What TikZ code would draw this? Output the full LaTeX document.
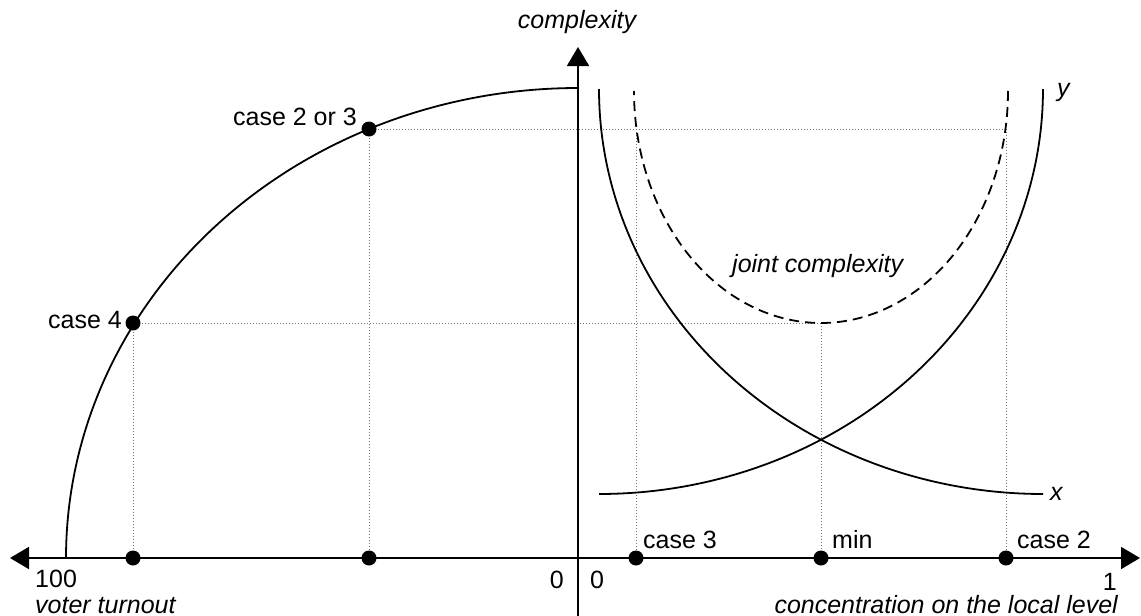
\documentclass[tikz,border=0pt]{standalone}
\usepackage{fontspec}
\setmainfont{Liberation Sans}
\usetikzlibrary{arrows.meta}
\begin{document}
\begin{tikzpicture}[x=1pt,y=-1pt,
  axis/.style={line width=1.9pt},
  curve/.style={line width=1.8pt},
  joint/.style={line width=1.8pt, dash pattern=on 10pt off 6pt},
  guide/.style={draw=black!55, line width=1pt, dash pattern=on 1.3pt off 1.7pt},
  pt/.style={circle, fill=black, inner sep=0pt, minimum size=15pt},
  lbl/.style={font=\fontsize{25}{29}\selectfont, inner sep=0pt},
  ilbl/.style={font=\fontsize{25}{29}\selectfont\itshape, inner sep=0pt},
  tipstyle/.style={-{Triangle[length=19pt,width=22pt]}}
]
\useasboundingbox (0,0) rectangle (1141,616);
% axes
\coordinate (L) at (10,558);
\coordinate (R) at (1140,558);
\coordinate (T) at (578,47);
\coordinate (B) at (578,616);
% guide points
\coordinate (p4) at (133,323);
\coordinate (p23) at (369,129);
\coordinate (j3) at (636,129);
\coordinate (j2) at (1006,129);
\coordinate (jm) at (821,323);
\coordinate (a4) at (133,558);
\coordinate (a23) at (369,558);
\coordinate (a3) at (636,558);
\coordinate (am) at (821,558);
\coordinate (a2) at (1006,558);
% dotted guides
\draw[guide] (p4) -- (a4);
\draw[guide] (p4) -- (jm);
\draw[guide] (jm) -- (am);
\draw[guide] (p23) -- (a23);
\draw[guide] (p23) -- (j2);
\draw[guide] (j3) -- (a3);
\draw[guide] (j2) -- (a2);
% axes
\draw[axis, {Triangle[length=19pt,width=22pt]}-{Triangle[length=19pt,width=22pt]}] (L) -- (R);
\draw[axis, tipstyle] (B) -- (T);
% voter turnout arc
\draw[curve] plot[domain=0:90, samples=90, smooth] ({578-512*cos(\x)},{558-470*sin(\x)});
% curve y
\draw[curve] plot[domain=0:90, samples=90, smooth] ({599+444*sin(\x)},{89+405*cos(\x)});
% curve x
\draw[curve] plot[domain=0:90, samples=90, smooth] ({1043-444*sin(\x)},{89+405*cos(\x)});
% joint complexity
\draw[joint] plot[domain=0:180, samples=120, smooth] ({821+187*cos(\x)},{91+232*sin(\x)});
% dots
\node[pt] (d4) at (p4) {};
\node[pt] (d23) at (p23) {};
\node[pt] (e4) at (a4) {};
\node[pt] (e23) at (a23) {};
\node[pt] (e3) at (a3) {};
\node[pt] (em) at (am) {};
\node[pt] (e2) at (a2) {};
% labels
\node[ilbl, anchor=base] (lc) at (577,28) {complexity};
\node[lbl, anchor=base east] (l4) at (122,328) {case 4};
\node[lbl, anchor=base east] (l23) at (357,125) {case 2 or 3};
\node[lbl, anchor=base west] (l100) at (35,587) {100};
\node[ilbl, anchor=base west] (lvt) at (35,613) {voter turnout};
\node[lbl, anchor=base east] (l0a) at (564,588) {0};
\node[lbl, anchor=base west] (l0b) at (590,588) {0};
\node[lbl, anchor=base east] (l1) at (1117,590) {1};
\node[ilbl, anchor=base east] (lcon) at (1118,613) {concentration on the local level};
\node[lbl, anchor=base west] (l3) at (643,548) {case 3};
\node[lbl, anchor=base west] (lm) at (832,548) {min};
\node[lbl, anchor=base west] (l2) at (1017,548) {case 2};
\node[ilbl, anchor=base west] (lx) at (1050,500) {x};
\node[ilbl, anchor=base west] (ly) at (1057,96) {y};
\node[ilbl, anchor=base west] (lj) at (732,272) {joint complexity};
\end{tikzpicture}
\end{document}
